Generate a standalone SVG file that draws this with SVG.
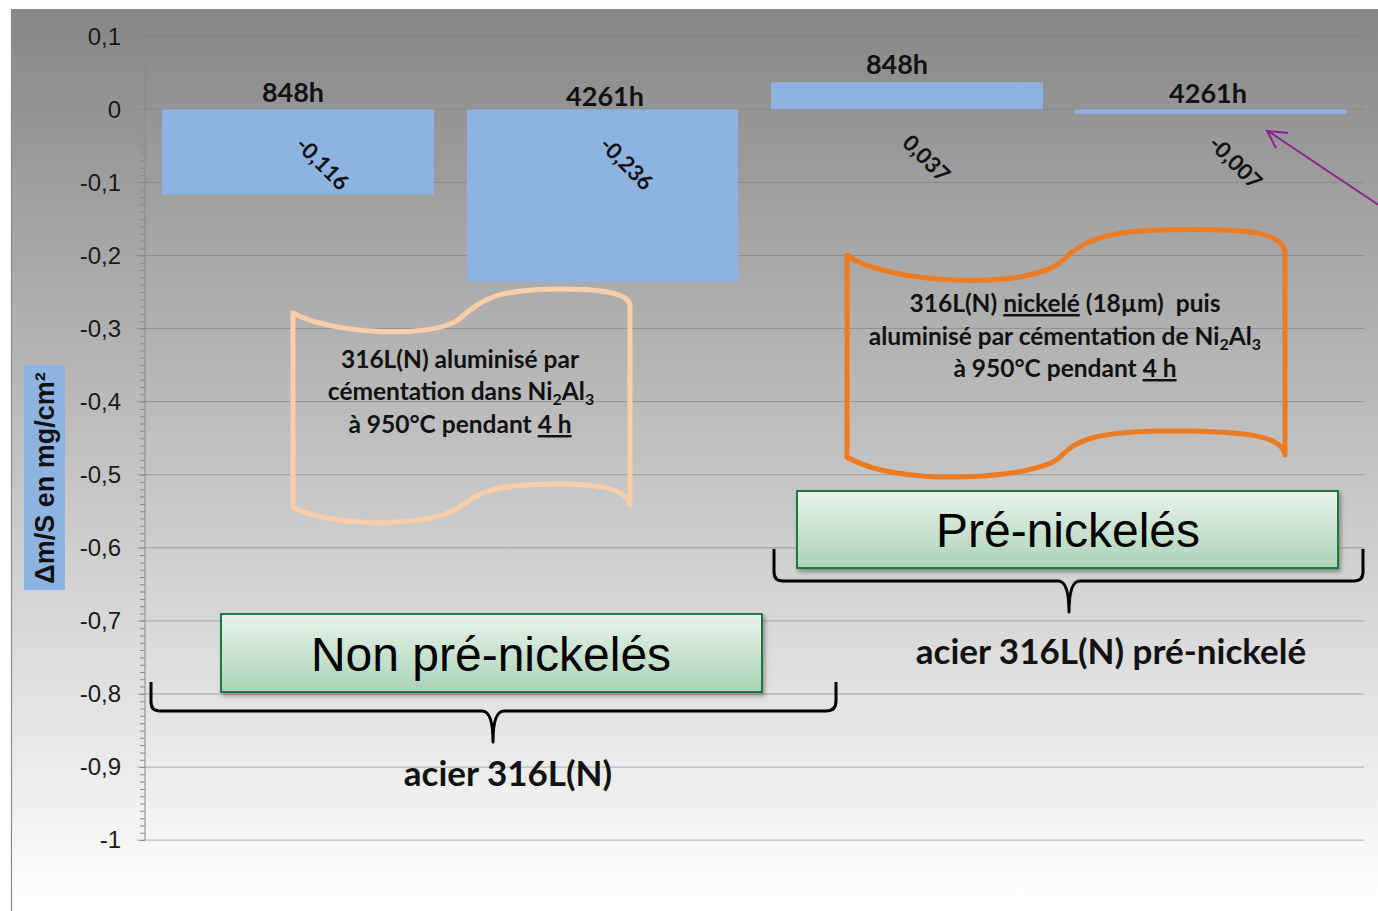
<svg xmlns="http://www.w3.org/2000/svg" width="1378" height="911" viewBox="0 0 1378 911">
<defs>
<linearGradient id="bg" x1="0" y1="9" x2="0" y2="911" gradientUnits="userSpaceOnUse">
<stop offset="0" stop-color="#878787"/>
<stop offset="0.5" stop-color="#c2c2c2"/>
<stop offset="1" stop-color="#ffffff"/>
</linearGradient>
<linearGradient id="gbox" x1="0" y1="0" x2="0" y2="1">
<stop offset="0" stop-color="#e9f3eb"/>
<stop offset="1" stop-color="#abd3b7"/>
</linearGradient>
<filter id="sh" x="-5%" y="-10%" width="110%" height="130%">
<feDropShadow dx="2" dy="3" stdDeviation="2" flood-color="#000" flood-opacity="0.35"/>
</filter>
</defs>
<style>
.tick{font-family:"Liberation Sans",Arial,sans-serif;font-size:24px;fill:#1a1a1a;text-anchor:end}
.grid{stroke:#7a7a7a;stroke-width:1;opacity:0.55}
.bar{fill:#8db3e2}
.hlab{font-family:Lato,"Liberation Sans",sans-serif;font-weight:bold;font-size:27px;fill:#111;text-anchor:middle}
.vlab{font-family:Lato,"Liberation Sans",sans-serif;font-weight:bold;font-size:22px;fill:#111;text-anchor:middle;dominant-baseline:central}
.scroll{fill:none;stroke-width:5;stroke-linejoin:round;stroke-linecap:round}
.stxt{font-family:Lato,"Liberation Sans",sans-serif;font-weight:bold;font-size:24.5px;fill:#111;text-anchor:middle}
.sub{font-size:16px}
.box{fill:url(#gbox);stroke:#1f7a3f;stroke-width:2;filter:url(#sh)}
.btxt{font-family:"Liberation Sans",Arial,sans-serif;font-size:48px;fill:#000;text-anchor:middle}
.brace{fill:none;stroke:#000;stroke-width:3;stroke-linejoin:round}
.gtxt{font-family:Lato,"Liberation Sans",sans-serif;font-weight:bold;font-size:35px;fill:#111;text-anchor:middle}
</style>
<rect x="0" y="0" width="1378" height="911" fill="#ffffff"/>
<rect x="11" y="9" width="1367" height="902" fill="url(#bg)"/>
<line x1="11.5" y1="9" x2="11.5" y2="911" stroke="#8a8a8a" stroke-width="1.2"/>

<g id="axis">
<line class="grid" x1="137" y1="36.2" x2="1364" y2="36.2"/>
<line class="grid" x1="137" y1="109.3" x2="1364" y2="109.3"/>
<line class="grid" x1="137" y1="182.4" x2="1364" y2="182.4"/>
<line class="grid" x1="137" y1="255.5" x2="1364" y2="255.5"/>
<line class="grid" x1="137" y1="328.5" x2="1364" y2="328.5"/>
<line class="grid" x1="137" y1="401.6" x2="1364" y2="401.6"/>
<line class="grid" x1="137" y1="474.7" x2="1364" y2="474.7"/>
<line class="grid" x1="137" y1="547.8" x2="1364" y2="547.8"/>
<line class="grid" x1="137" y1="620.9" x2="1364" y2="620.9"/>
<line class="grid" x1="137" y1="694" x2="1364" y2="694"/>
<line class="grid" x1="137" y1="767.1" x2="1364" y2="767.1"/>
<line class="grid" x1="137" y1="840.1" x2="1364" y2="840.1"/>
<line x1="145" y1="36.2" x2="145" y2="840.1" stroke="#8a8a8a" stroke-width="1"/>
<line x1="142.5" y1="36.2" x2="142.5" y2="841" stroke="#8a8a8a" stroke-width="5" stroke-dasharray="1 6.308"/>
<text class="tick" x="121" y="44.5">0,1</text>
<text class="tick" x="121" y="117.5">0</text>
<text class="tick" x="121" y="190.5">-0,1</text>
<text class="tick" x="121" y="263.5">-0,2</text>
<text class="tick" x="121" y="336.5">-0,3</text>
<text class="tick" x="121" y="409.5">-0,4</text>
<text class="tick" x="121" y="482.5">-0,5</text>
<text class="tick" x="121" y="555.5">-0,6</text>
<text class="tick" x="121" y="628.5">-0,7</text>
<text class="tick" x="121" y="702">-0,8</text>
<text class="tick" x="121" y="775">-0,9</text>
<text class="tick" x="121" y="848">-1</text>
</g>

<g id="axis-title">
<rect x="24" y="365" width="41" height="225" fill="#8db3e2"/>
<text transform="translate(54,478) rotate(-90)" text-anchor="middle" font-family="'Liberation Sans',Arial,sans-serif" font-weight="bold" font-size="27" fill="#111">Δm/S en mg/cm²</text>
</g>

<g id="bar1">
<rect class="bar" x="162" y="109.3" width="272" height="85"/>
<text class="hlab" x="293" y="102">848h</text>
<text class="vlab" transform="rotate(45 323 163)" x="323" y="163">-0,116</text>
</g>
<g id="bar2">
<rect class="bar" x="467" y="109.3" width="271" height="172.4"/>
<text class="hlab" x="605" y="106">4261h</text>
<text class="vlab" transform="rotate(45 627 163)" x="627" y="163">-0,236</text>
</g>
<g id="bar3">
<rect class="bar" x="771" y="82.3" width="272" height="27"/>
<text class="hlab" x="897" y="74">848h</text>
<text class="vlab" transform="rotate(45 927 158)" x="927" y="158">0,037</text>
</g>
<g id="bar4">
<rect class="bar" x="1075" y="109.3" width="272" height="4.5"/>
<text class="hlab" x="1208" y="103">4261h</text>
<text class="vlab" transform="rotate(45 1236 162)" x="1236" y="162">-0,007</text>
</g>

<g id="scroll1">
<path class="scroll" stroke="#f9cda8" d="M293,313 C330,334 430,339 458,320 C480,302 490,289 560,289 C610,289 628,295 630,305 L630,505 C628,493 610,484 560,484 C490,484 480,493 458,508 C430,527 330,528 293,507 Z"/>
<text class="stxt" x="460" y="368">316L(N) aluminisé par</text>
<text class="stxt" x="461" y="400">cémentation dans Ni<tspan class="sub" dy="5">2</tspan><tspan dy="-5">Al</tspan><tspan class="sub" dy="5">3</tspan></text>
<text class="stxt" x="460" y="433">à 950°C pendant <tspan text-decoration="underline">4 h</tspan></text>
</g>

<g id="scroll2">
<path class="scroll" stroke="#ec7b22" d="M847,255 C880,281 1010,291 1055,266 C1075,253 1080,232 1160,230 C1250,228 1283,232 1285,253 L1285,455 C1283,437 1250,430 1160,431 C1090,432 1075,442 1060,457 C1040,478 900,489 847,457 Z"/>
<text class="stxt" x="1065" y="312" xml:space="preserve">316L(N) <tspan text-decoration="underline">nickelé</tspan> (18µm)  puis</text>
<text class="stxt" x="1065" y="345">aluminisé par cémentation de Ni<tspan class="sub" dy="5">2</tspan><tspan dy="-5">Al</tspan><tspan class="sub" dy="5">3</tspan></text>
<text class="stxt" x="1065" y="377">à 950°C pendant <tspan text-decoration="underline">4 h</tspan></text>
</g>

<g id="connectors">
<path id="brace1" class="brace" d="M151,682 L151,702 Q151,711 160,711 L482,711 Q493,711 493,742 Q493,711 504,711 L826,711 Q836,711 836,701 L836,682"/>
<path id="brace2" class="brace" d="M774,549 L774,572 Q774,581 783,581 L1058,581 Q1069,581 1069,612 Q1069,581 1080,581 L1354,581 Q1363,581 1363,572 L1363,549"/>
<g id="arrow" stroke="#8e1f8e" stroke-width="2" fill="none">
<line x1="1380" y1="206" x2="1268" y2="131"/>
<polyline points="1288,133 1267,131 1276,148"/>
</g>
</g>

<g id="box-non">
<rect class="box" x="221" y="614" width="541" height="78"/>
<text class="btxt" x="491" y="671">Non pré-nickelés</text>
</g>
<g id="box-pre">
<rect class="box" x="797" y="491" width="541" height="77"/>
<text class="btxt" x="1068" y="547">Pré-nickelés</text>
</g>

<g id="label-acier">
<text class="gtxt" x="508" y="786">acier 316L(N)</text>
</g>
<g id="label-acier-pre">
<text class="gtxt" x="1111" y="664">acier 316L(N) pré-nickelé</text>
</g>
</svg>
